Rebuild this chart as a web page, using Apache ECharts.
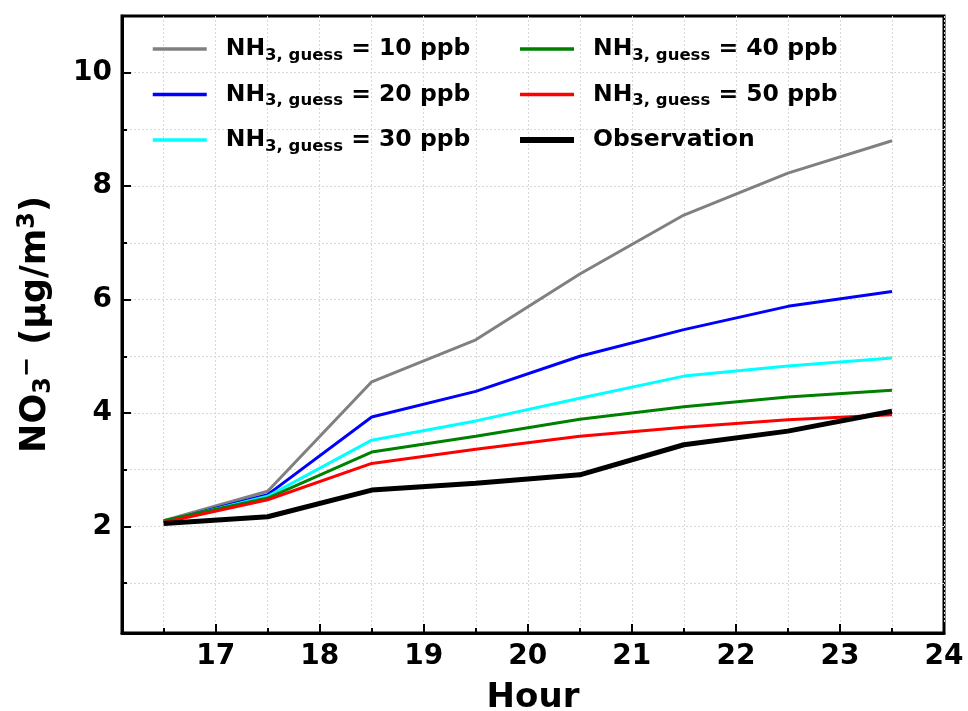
<!DOCTYPE html>
<html>
<head>
<meta charset="utf-8">
<script src="https://cdn.jsdelivr.net/npm/echarts@6/dist/echarts.min.js"></script>
<style>
html, body { margin: 0; padding: 0; background: #fff; }
#main { width: 968px; height: 711px; }
</style>
</head>
<body>
<div id="main"></div>
<script>
var hours = [16.5, 17.5, 18.5, 19.5, 20.5, 21.5, 22.5, 23.5];
var nh3_10 = [2.10, 2.62, 4.55, 5.29, 6.45, 7.49, 8.23, 8.80];
var nh3_20 = [2.08, 2.56, 3.93, 4.38, 5.00, 5.47, 5.88, 6.14];
var nh3_30 = [2.08, 2.53, 3.52, 3.86, 4.26, 4.65, 4.83, 4.97];
var nh3_40 = [2.10, 2.50, 3.31, 3.59, 3.89, 4.11, 4.28, 4.40];
var nh3_50 = [2.07, 2.47, 3.11, 3.36, 3.59, 3.75, 3.88, 3.97];
var observation = [2.05, 2.17, 2.64, 2.76, 2.91, 3.44, 3.68, 4.03];

var xMajorTicks = [17, 18, 19, 20, 21, 22, 23, 24];
var xMinorTicks = [16.5, 17.5, 18.5, 19.5, 20.5, 21.5, 22.5, 23.5];
var yMajorTicks = [2, 4, 6, 8, 10];
var yMinorTicks = [1, 3, 5, 7, 9];

function pairs(vals) {
    var out = [];
    for (var i = 0; i < hours.length; i++) {
        out.push([hours[i], vals[i]]);
    }
    return out;
}

var font = 'DejaVu Sans';
var gridLine = { show: true, lineStyle: { color: '#d8d8d8', type: [2, 2], width: 1 } };

var legendRich = {
    b0: { fontFamily: font, fontWeight: 'bold', fontSize: 23.5, color: '#000', padding: [0, 0, 0, 14] },
    b: { fontFamily: font, fontWeight: 'bold', fontSize: 23.5, color: '#000' },
    s: { fontFamily: font, fontWeight: 'bold', fontSize: 16.5, color: '#000', padding: [13, 0, 0, 0] }
};

function legendLabel(name) {
    if (name === 'Observation') return '{b0|Observation}';
    var ppb = name.split(' ')[1];
    return '{b0|NH}{s|3, guess}{b| = ' + ppb + ' ppb}';
}

function legendItem(name, w) {
    return { name: name, lineStyle: { width: w } };
}

var myChart = echarts.init(document.getElementById('main'));

var option = {
    animation: false,
    backgroundColor: '#fff',
    grid: {
        left: 122, right: 24, top: 16, bottom: 78,
        outerBoundsMode: 'none',
        containLabel: false,
        show: true, borderColor: '#000', borderWidth: 3
    },
    legend: [{
        data: [legendItem('NH3 10', 3.5), legendItem('NH3 20', 3.5), legendItem('NH3 30', 3.5)],
        orient: 'vertical',
        left: 146, top: 29,
        itemWidth: 54, itemHeight: 14, itemGap: 15.5,
        itemStyle: { opacity: 0 },
        formatter: legendLabel,
        textStyle: { rich: legendRich, lineHeight: 30 }
    }, {
        data: [legendItem('NH3 40', 3.5), legendItem('NH3 50', 3.5), legendItem('Observation', 6)],
        orient: 'vertical',
        left: 512, top: 29,
        itemWidth: 54, itemHeight: 14, itemGap: 15.5,
        itemStyle: { opacity: 0 },
        formatter: legendLabel,
        textStyle: { rich: legendRich, lineHeight: 30 }
    }],
    xAxis: [{
        type: 'value',
        min: 16.1, max: 24,
        position: 'bottom',
        name: 'Hour',
        nameLocation: 'middle',
        nameGap: 48,
        nameTextStyle: { fontFamily: font, fontWeight: 'bold', fontSize: 34, color: '#000' },
        axisLine: { show: true, onZero: false, lineStyle: { color: '#000', width: 3 } },
        axisTick: { show: true, inside: true, length: 9, customValues: xMajorTicks, lineStyle: { color: '#000', width: 2 } },
        axisLabel: { customValues: xMajorTicks, margin: 10, fontFamily: font, fontWeight: 'bold', fontSize: 28, color: '#000' },
        splitLine: gridLine
    }, {
        type: 'value',
        min: 16.1, max: 24,
        position: 'bottom',
        axisLine: { show: false, onZero: false },
        axisTick: { show: true, inside: true, length: 5, customValues: xMinorTicks, lineStyle: { color: '#000', width: 2 } },
        axisLabel: { show: false, customValues: xMinorTicks },
        splitLine: gridLine
    }],
    yAxis: [{
        type: 'value',
        min: 0.12, max: 11,
        position: 'left',
        name: '{b|NO}{sub|3}{sup|\u2212}{b| (\u00b5g/m}{sup|3}{b|)}',
        nameLocation: 'middle',
        nameRotate: 90,
        nameGap: 66,
        nameTextStyle: {
            rich: {
                b: { fontFamily: font, fontWeight: 'bold', fontSize: 35, color: '#000' },
                sub: { fontFamily: font, fontWeight: 'bold', fontSize: 24, color: '#000', padding: [16, 0, 0, 0] },
                sup: { fontFamily: font, fontWeight: 'bold', fontSize: 24, color: '#000', padding: [0, 0, 16, 0] }
            }
        },
        axisLine: { show: true, onZero: false, lineStyle: { color: '#000', width: 3 } },
        axisTick: { show: true, inside: true, length: 9, customValues: yMajorTicks, lineStyle: { color: '#000', width: 2 } },
        axisLabel: { customValues: yMajorTicks, margin: 10, fontFamily: font, fontWeight: 'bold', fontSize: 28, color: '#000' },
        splitLine: gridLine
    }, {
        type: 'value',
        min: 0.12, max: 11,
        position: 'left',
        axisLine: { show: false, onZero: false },
        axisTick: { show: true, inside: true, length: 5, customValues: yMinorTicks, lineStyle: { color: '#000', width: 2 } },
        axisLabel: { show: false, customValues: yMinorTicks },
        splitLine: gridLine
    }],
    series: [
        { name: 'NH3 10', type: 'line', data: pairs(nh3_10), symbol: 'none', lineStyle: { color: '#808080', width: 3 }, itemStyle: { color: '#808080' } },
        { name: 'NH3 20', type: 'line', data: pairs(nh3_20), symbol: 'none', lineStyle: { color: '#0000ff', width: 3 }, itemStyle: { color: '#0000ff' } },
        { name: 'NH3 30', type: 'line', data: pairs(nh3_30), symbol: 'none', lineStyle: { color: '#00ffff', width: 3 }, itemStyle: { color: '#00ffff' } },
        { name: 'NH3 40', type: 'line', data: pairs(nh3_40), symbol: 'none', lineStyle: { color: '#008000', width: 3 }, itemStyle: { color: '#008000' } },
        { name: 'NH3 50', type: 'line', data: pairs(nh3_50), symbol: 'none', lineStyle: { color: '#ff0000', width: 3 }, itemStyle: { color: '#ff0000' } },
        { name: 'Observation', type: 'line', data: pairs(observation), symbol: 'none', lineStyle: { color: '#000', width: 5 }, itemStyle: { color: '#000' } }
    ]
};

myChart.setOption(option);
</script>
</body>
</html>
